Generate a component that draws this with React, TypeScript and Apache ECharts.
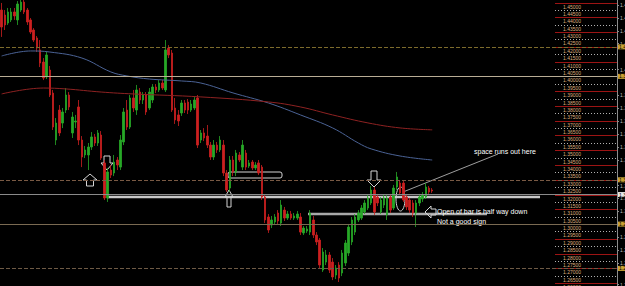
import React, { useEffect, useRef } from "react";
import * as echarts from "echarts";

// [open, close, low, high]
const candles: number[][] = [
  [1.4449, 1.4334, 1.4267, 1.4497],
  [1.4415, 1.4348, 1.4314, 1.4449],
  [1.4361, 1.4436, 1.4348, 1.4463],
  [1.4382, 1.4436, 1.4368, 1.4463],
  [1.4436, 1.4409, 1.4382, 1.4463],
  [1.4382, 1.449, 1.4348, 1.451],
  [1.4449, 1.4503, 1.4436, 1.4517],
  [1.4503, 1.4436, 1.4422, 1.4517],
  [1.4449, 1.4368, 1.4348, 1.4463],
  [1.4382, 1.43, 1.4287, 1.4395],
  [1.4314, 1.4246, 1.4233, 1.4327],
  [1.426, 1.4192, 1.4165, 1.4273],
  [1.4179, 1.409, 1.4063, 1.4246],
  [1.4097, 1.3989, 1.3975, 1.4124],
  [1.3996, 1.4145, 1.3982, 1.4165],
  [1.4043, 1.3874, 1.386, 1.407],
  [1.3887, 1.3657, 1.3637, 1.3908],
  [1.3569, 1.3684, 1.3535, 1.3718],
  [1.3772, 1.3617, 1.3596, 1.3806],
  [1.3684, 1.3759, 1.365, 1.3786],
  [1.3772, 1.3874, 1.3752, 1.3921],
  [1.3874, 1.3793, 1.3772, 1.3894],
  [1.3617, 1.3725, 1.3583, 1.3759],
  [1.3691, 1.3698, 1.365, 1.3739],
  [1.3793, 1.3569, 1.3535, 1.384],
  [1.3569, 1.3454, 1.3386, 1.3596],
  [1.3468, 1.3502, 1.3447, 1.3529],
  [1.3468, 1.3522, 1.3366, 1.3549],
  [1.3522, 1.359, 1.3502, 1.3623],
  [1.359, 1.3549, 1.3529, 1.361],
  [1.3549, 1.3617, 1.3529, 1.3637],
  [1.3603, 1.3447, 1.3434, 1.363],
  [1.3414, 1.3177, 1.3163, 1.3434],
  [1.3177, 1.3353, 1.315, 1.338],
  [1.3366, 1.3332, 1.3312, 1.34],
  [1.3346, 1.342, 1.3325, 1.3468],
  [1.3434, 1.34, 1.3366, 1.3454],
  [1.3386, 1.3569, 1.3366, 1.3603],
  [1.3556, 1.3759, 1.3535, 1.3786],
  [1.3772, 1.3657, 1.3637, 1.384],
  [1.3657, 1.3854, 1.3644, 1.3874],
  [1.3854, 1.3786, 1.3759, 1.3908],
  [1.3772, 1.3908, 1.3739, 1.3942],
  [1.3894, 1.384, 1.3813, 1.3921],
  [1.384, 1.3874, 1.3813, 1.3894],
  [1.3874, 1.3759, 1.3739, 1.3894],
  [1.3786, 1.3894, 1.3772, 1.3921],
  [1.384, 1.3928, 1.382, 1.3948],
  [1.3928, 1.3908, 1.3887, 1.3948],
  [1.3908, 1.3955, 1.3894, 1.3975],
  [1.3955, 1.3921, 1.3908, 1.3975],
  [1.3908, 1.4179, 1.3894, 1.4246],
  [1.4192, 1.4145, 1.4124, 1.4212],
  [1.4158, 1.3772, 1.3759, 1.4179],
  [1.3786, 1.3705, 1.3678, 1.3854],
  [1.3739, 1.3698, 1.3664, 1.3772],
  [1.3752, 1.382, 1.3732, 1.384],
  [1.382, 1.3772, 1.3752, 1.384],
  [1.3826, 1.3772, 1.3745, 1.3847],
  [1.3772, 1.3813, 1.3759, 1.384],
  [1.3786, 1.384, 1.3772, 1.386],
  [1.3854, 1.3535, 1.3515, 1.3874],
  [1.3569, 1.3617, 1.3549, 1.3637],
  [1.3617, 1.3583, 1.3562, 1.365],
  [1.3596, 1.3535, 1.3515, 1.3671],
  [1.3535, 1.3454, 1.3434, 1.3556],
  [1.3454, 1.3535, 1.3434, 1.3569],
  [1.3535, 1.3502, 1.3481, 1.3556],
  [1.3502, 1.3569, 1.3488, 1.3596],
  [1.3535, 1.3346, 1.3325, 1.3569],
  [1.3346, 1.3231, 1.3217, 1.3366],
  [1.3244, 1.3434, 1.3217, 1.3461],
  [1.3434, 1.3353, 1.3325, 1.3461],
  [1.3353, 1.3481, 1.3325, 1.3502],
  [1.3468, 1.3434, 1.342, 1.3488],
  [1.3386, 1.3535, 1.3366, 1.3569],
  [1.3481, 1.3386, 1.3366, 1.3502],
  [1.3393, 1.3414, 1.338, 1.3434],
  [1.342, 1.338, 1.3366, 1.3434],
  [1.338, 1.34, 1.3366, 1.342],
  [1.3414, 1.3346, 1.3332, 1.3434],
  [1.3386, 1.3183, 1.3163, 1.34],
  [1.3183, 1.3028, 1.3007, 1.3197],
  [1.3048, 1.296, 1.294, 1.3068],
  [1.2994, 1.3028, 1.2973, 1.3055],
  [1.3014, 1.3048, 1.2994, 1.3068],
  [1.3075, 1.3021, 1.3001, 1.3095],
  [1.3007, 1.3129, 1.2987, 1.3163],
  [1.3095, 1.3041, 1.3021, 1.3116],
  [1.3041, 1.3068, 1.3028, 1.3089],
  [1.3068, 1.3041, 1.3028, 1.3089],
  [1.3041, 1.3055, 1.3028, 1.3075],
  [1.3041, 1.3068, 1.3028, 1.3089],
  [1.3048, 1.2946, 1.2926, 1.3075],
  [1.294, 1.2973, 1.2926, 1.2987],
  [1.2953, 1.2967, 1.294, 1.2987],
  [1.2946, 1.3075, 1.2926, 1.3095],
  [1.3028, 1.2926, 1.2906, 1.3055],
  [1.2926, 1.2879, 1.2858, 1.2946],
  [1.2892, 1.2723, 1.2703, 1.2906],
  [1.2689, 1.2811, 1.2676, 1.2838],
  [1.2743, 1.2791, 1.2723, 1.2825],
  [1.2791, 1.2689, 1.2669, 1.2811],
  [1.2743, 1.2642, 1.2621, 1.277],
  [1.2655, 1.2703, 1.2628, 1.2723],
  [1.2723, 1.2635, 1.2608, 1.2743],
  [1.2669, 1.2804, 1.2648, 1.2825],
  [1.2737, 1.2872, 1.2716, 1.2892],
  [1.2804, 1.298, 1.2784, 1.3001],
  [1.2879, 1.3028, 1.2858, 1.3048],
  [1.2946, 1.3048, 1.2926, 1.3068],
  [1.3028, 1.3075, 1.3014, 1.3095],
  [1.3041, 1.3109, 1.3028, 1.3129],
  [1.3082, 1.3143, 1.3068, 1.3163],
  [1.3109, 1.3177, 1.3095, 1.3197],
  [1.3143, 1.3231, 1.3129, 1.3258],
  [1.3231, 1.3082, 1.3062, 1.3251],
  [1.3183, 1.3143, 1.3122, 1.3204],
  [1.3082, 1.3163, 1.3068, 1.3183],
  [1.3129, 1.3177, 1.3109, 1.3197],
  [1.3062, 1.3177, 1.3028, 1.3197],
  [1.3183, 1.3095, 1.3075, 1.3204],
  [1.3109, 1.3244, 1.3095, 1.3265],
  [1.3251, 1.3319, 1.3231, 1.3353],
  [1.3278, 1.3211, 1.3197, 1.3298],
  [1.3278, 1.3163, 1.315, 1.3298],
  [1.3183, 1.3116, 1.3095, 1.3204],
  [1.3163, 1.3095, 1.3075, 1.3177],
  [1.3143, 1.3075, 1.3048, 1.3163],
  [1.3075, 1.3143, 1.298, 1.3163],
  [1.3143, 1.3183, 1.3122, 1.3204],
  [1.317, 1.3197, 1.315, 1.3217],
  [1.3183, 1.3251, 1.317, 1.3278],
  [1.3244, 1.3217, 1.3204, 1.3258],
  [1.3231, 1.3224, 1.3211, 1.3244],
];

const TOTAL_BARS = 192;
const categories: string[] = Array.from({ length: TOTAL_BARS }, (_, i) => String(i + 1));

// moving averages: bar index -> value
const maSlowIdx = [0, 9, 15, 25, 34, 39, 46, 56, 62, 72, 83, 93, 103, 111, 115, 124, 134];
const maSlow = [1.4138, 1.4172, 1.4165, 1.4124, 1.403, 1.4003, 1.3982, 1.3969, 1.3955, 1.3888, 1.382, 1.3739, 1.3651, 1.3549, 1.3509, 1.3461, 1.3434];
const maLongIdx = [0, 13, 20, 31, 41, 62, 83, 93, 103, 114, 124, 134];
const maLong = [1.3881, 1.3921, 1.3915, 1.3894, 1.3881, 1.3861, 1.3827, 1.3793, 1.3739, 1.3685, 1.3651, 1.3638];

// horizontal levels
const hLevels = [1.415, 1.3952, 1.3349, 1.3238, 1.3224, 1.2988, 1.2683];
const hColors = ["#7d6b2c", "#b9ad95", "#7a5a44", "#7a5a44", "#8a8a8a", "#7a6a52", "#6e5a45"];
const hTypes = ["dashed", "solid", "dashed", "dashed", "solid", "solid", "dashed"];
const hBoxes = ["#c9a233", "#c9a233", "#c9a233", "", "#e8e8e8", "#c9a233", "#c9a233"];

// round-number price ladder on the right
const ladderLabels = [
  "1.45000", "1.44500", "1.44000", "1.43500", "1.43000", "1.42500", "1.42000", "1.41500",
  "1.41000", "1.40500", "1.40000", "1.39500", "1.39000", "1.38500", "1.38000", "1.37500",
  "1.37000", "1.36500", "1.36000", "1.35500", "1.35000", "1.34500", "1.34000", "1.33500",
  "1.33000", "1.32500", "1.32000", "1.31500", "1.31000", "1.30500", "1.30000", "1.29500",
  "1.29000", "1.28500", "1.28000", "1.27500", "1.27000", "1.26500", "1.26000",
];

// price axis tick values
const axisTicks = [
  1.4483, 1.4396, 1.4308, 1.4221, 1.4046, 1.3872, 1.3785, 1.3697, 1.361,
  1.3523, 1.3435, 1.3261, 1.3174, 1.3086, 1.2912, 1.2824, 1.2737, 1.259,
];

// drawn trend lines (price levels)
const supportLevel = 1.3183;
const openLevel = 1.3068;

const annotations = {
  note1: "space runs out here",
  note2: "Open of bar is half way down",
  note3: "Not a good sign",
};

const Y_MIN = 1.2581;
const Y_MAX = 1.4517;

export default function App() {
  const ref = useRef<HTMLDivElement>(null);
  useEffect(() => {
    const chart = echarts.init(ref.current!, null, { renderer: "svg" });
    const option: any = {
      animation: false,
      backgroundColor: "#000000",
      grid: { left: 0, top: 0, width: 617, height: 286, containLabel: false, outerBoundsMode: "none" },
      xAxis: {
        type: "category",
        data: categories,
        boundaryGap: true,
        show: false,
      },
      yAxis: [
        { type: "value", min: Y_MIN, max: Y_MAX, show: false, splitLine: { show: false } },
        {
          type: "value",
          min: Y_MIN,
          max: Y_MAX,
          position: "right",
          splitLine: { show: false },
          axisLine: { show: true, lineStyle: { color: "#8c8c8c", width: 1 } },
          axisTick: { show: true, customValues: axisTicks, length: 2, lineStyle: { color: "#8c8c8c" } },
          axisLabel: {
            show: true,
            customValues: axisTicks,
            margin: 3,
            fontSize: 5,
            color: "#b8b8b8",
            fontFamily: "Liberation Sans",
            formatter: (v: number) => v.toFixed(4),
          },
        },
      ],
      series: [
        {
          type: "candlestick",
          data: candles,
          barWidth: 2,
          itemStyle: {
            color: "#27a827",
            color0: "#cc2020",
            borderColor: "#27a827",
            borderColor0: "#cc2020",
            borderWidth: 0.8,
          },
          markLine: {
            silent: true,
            symbol: ["none", "none"],
            animation: false,
            data: hLevels.map((v, i) => ({
              yAxis: v,
              lineStyle: { color: hColors[i], type: hTypes[i], width: 1 },
              label: hBoxes[i]
                ? {
                    show: true,
                    position: "end",
                    distance: 1,
                    formatter: v.toFixed(4),
                    fontSize: 5,
                    color: "#000",
                    backgroundColor: hBoxes[i],
                    padding: [0, 1],
                    fontFamily: "Liberation Sans",
                  }
                : { show: false },
            })),
          },
        },
        {
          type: "line",
          data: maSlowIdx.map((x, i) => [x, maSlow[i]]),
          smooth: 0.4,
          showSymbol: false,
          lineStyle: { color: "#4b6396", width: 1 },
        },
        {
          type: "line",
          data: maLongIdx.map((x, i) => [x, maLong[i]]),
          smooth: 0.4,
          showSymbol: false,
          lineStyle: { color: "#8e2222", width: 1 },
        },
      ],
    };
    chart.setOption(option);

    const yPix = (p: number) => chart.convertToPixel({ yAxisIndex: 0 }, p) as number;
    const g: any[] = [];
    ladderLabels.forEach((lab, i) => {
      const y = Math.round(yPix(parseFloat(lab))) + 0.5;
      const major = i % 2 === 0;
      g.push({
        type: "line",
        silent: true,
        shape: { x1: 555, y1: y, x2: 617, y2: y },
        style: major
          ? { stroke: "#9c1414", lineWidth: 1 }
          : { stroke: "#b0b0b0", lineWidth: 1, lineDash: [1, 2] },
      });
      g.push({
        type: "text",
        silent: true,
        x: 563,
        y: y + 0.5,
        style: {
          text: lab,
          fontSize: 5,
          fill: "#dcae7c",
          fontFamily: "Liberation Sans",
          verticalAlign: "top",
        },
      });
    });

    const ySup = yPix(supportLevel);
    const yOpen = yPix(openLevel);
    g.push({ type: "line", silent: true, shape: { x1: 107, y1: ySup, x2: 540, y2: ySup }, style: { stroke: "#c8c8c8", lineWidth: 2.5 } });
    g.push({ type: "line", silent: true, shape: { x1: 308, y1: yOpen, x2: 487, y2: yOpen }, style: { stroke: "#a8a8a8", lineWidth: 2.5 } });

    const arrowStyle = { stroke: "#d4d4d4", lineWidth: 1, fill: "none" };
    const arrows = [
      [[90, 174], [97, 180], [93.5, 180], [93.5, 186], [86.5, 186], [86.5, 180], [83, 180]],
      [[104, 156], [110, 156], [110, 163], [113, 163], [107, 170], [101, 163], [104, 163]],
      [[229, 190], [233, 197], [231, 197], [231, 207], [227, 207], [227, 197], [225, 197]],
      [[371, 171], [377, 171], [377, 180], [381, 180], [374, 187], [367, 180], [371, 180]],
      [[425, 212], [431, 206], [431, 209], [436, 209], [436, 215], [431, 215], [431, 218]],
    ];
    arrows.forEach((pts) => g.push({ type: "polygon", silent: true, shape: { points: pts }, style: arrowStyle }));
    g.push({ type: "rect", silent: true, shape: { x: 228, y: 172, width: 54, height: 6, r: 2 }, style: { stroke: "#d4d4d4", lineWidth: 1, fill: "none" } });
    g.push({ type: "ellipse", silent: true, shape: { cx: 400.5, cy: 199, rx: 4.5, ry: 12 }, style: { stroke: "#d4d4d4", lineWidth: 1, fill: "none" } });
    g.push({ type: "line", silent: true, shape: { x1: 403, y1: 192, x2: 498, y2: 154 }, style: { stroke: "#c8c8c8", lineWidth: 0.8 } });
    const textStyle = { fill: "#ffffff", fontSize: 7, fontFamily: "Liberation Sans", verticalAlign: "middle" };
    g.push({ type: "text", silent: true, x: 474, y: 151, style: { ...textStyle, text: annotations.note1 } });
    g.push({ type: "text", silent: true, x: 437, y: 211, style: { ...textStyle, text: annotations.note2 } });
    g.push({ type: "text", silent: true, x: 437, y: 221, style: { ...textStyle, text: annotations.note3 } });

    chart.setOption({ graphic: g });
    return () => chart.dispose();
  }, []);
  return (
    <div
      ref={ref}
      style={{ position: "fixed", left: 0, top: 0, width: 625, height: 286, background: "#000" }}
    />
  );
}
